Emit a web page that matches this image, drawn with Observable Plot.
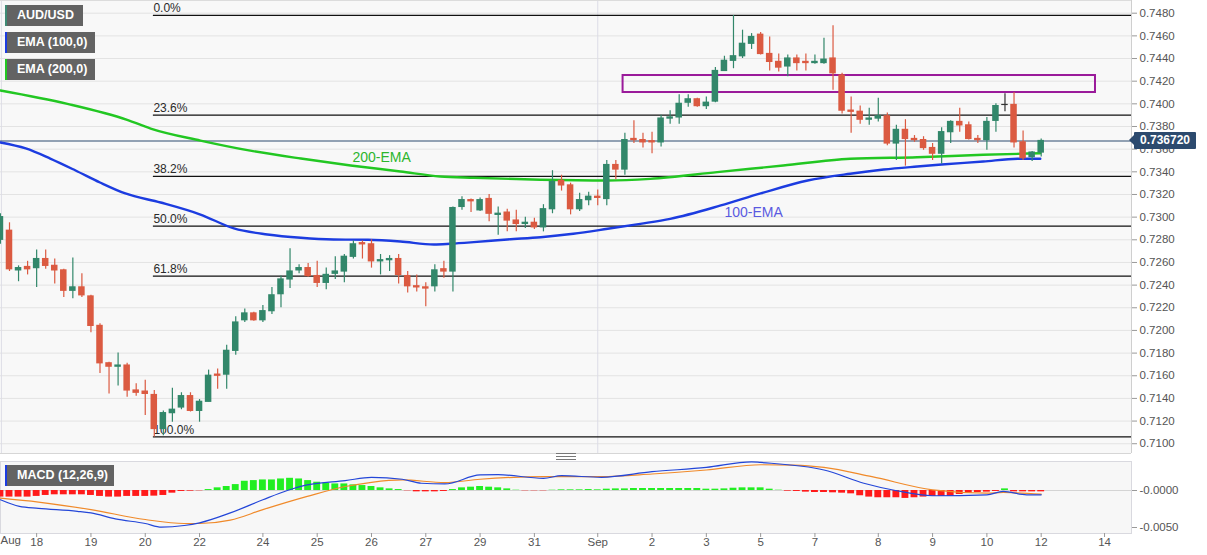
<!DOCTYPE html>
<html>
<head>
<meta charset="utf-8">
<script src="https://cdn.jsdelivr.net/npm/d3@7"></script>
<script src="https://cdn.jsdelivr.net/npm/@observablehq/plot@0.6"></script>
<style>
  body { margin: 0; background: #fff; font-family: "Liberation Sans", Arial, sans-serif; }
  #wrap { position: relative; width: 1207px; height: 555px; overflow: hidden; background: #fff; }
  #wrap svg { position: absolute; left: 0; }
  .tag { position: absolute; left: 5px; height: 21px; line-height: 21px; background: #636363; color: #fff;
         font-weight: bold; font-size: 12.5px; padding-left: 10px; box-sizing: border-box; border-left: 2px solid; }
  #price-tag { position: absolute; left: 1134px; width: 62px; height: 17px; line-height: 17px; background: #2c4a6e;
               color: #fff; font-weight: bold; font-size: 12px; text-align: center; border-radius: 1px; }
  #price-tag:before { content: ""; position: absolute; left: -5px; top: 3px; border-right: 5px solid #2c4a6e;
                      border-top: 5px solid transparent; border-bottom: 5px solid transparent; }
  #sep { position: absolute; left: 0; top: 453px; width: 1131px; height: 2px; border-top: 1px solid #d6d6d6; }
  #grip { position: absolute; left: 556px; top: 453px; width: 20px; height: 5px;
          border-top: 1px solid #777; border-bottom: 1px solid #777; }
  #grip:after { content: ""; position: absolute; left: 0; right: 0; top: 2px; border-top: 1px solid #777; }
</style>
</head>
<body>
<div id="wrap"></div>
<script>
(function() {
  "use strict";

  // 4h candles, first one is cut by the left edge
  var firstIndex = -1;
  var opens = [0.7280, 0.7288, 0.7253, 0.7256, 0.7255, 0.7263, 0.7257, 0.7253, 0.7235, 0.7238, 0.7230, 0.7204, 0.7171, 0.7168, 0.7169, 0.7147,
    0.7146, 0.7143, 0.7113, 0.7127, 0.7132, 0.7142, 0.7129, 0.7137, 0.7161, 0.7161, 0.7182, 0.7209, 0.7215, 0.7209, 0.7217, 0.7232,
    0.7245, 0.7253, 0.7255, 0.7248, 0.7242, 0.7250, 0.7252, 0.7265, 0.7277, 0.7276, 0.7261, 0.7262, 0.7263, 0.7248, 0.7239, 0.7238,
    0.7239, 0.7254, 0.7252, 0.7309, 0.7315, 0.7306, 0.7316, 0.7302, 0.7304, 0.7297, 0.7294, 0.7295, 0.7291, 0.7307, 0.7332, 0.7328,
    0.7307, 0.7315, 0.7318, 0.7316, 0.7346, 0.7342, 0.7369, 0.7368, 0.7367, 0.7366, 0.7387, 0.7388, 0.7401, 0.7404, 0.7398, 0.7402,
    0.7429, 0.7438, 0.7442, 0.7453, 0.7461, 0.7444, 0.7437, 0.7433, 0.7440, 0.7437, 0.7436, 0.7436, 0.7440, 0.7425, 0.7394, 0.7393,
    0.7386, 0.7387, 0.7389, 0.7365, 0.7377, 0.7369, 0.7368, 0.7361, 0.7356, 0.7375, 0.7384, 0.7381, 0.7369, 0.7368, 0.7385, 0.7399,
    0.7399, 0.7366, 0.7353, 0.7357];
  var highs = [0.7303, 0.7295, 0.7257, 0.7261, 0.7271, 0.7271, 0.7263, 0.7254, 0.7264, 0.7250, 0.7231, 0.7206, 0.7172, 0.7180, 0.7171, 0.7153,
    0.7156, 0.7147, 0.7129, 0.7149, 0.7145, 0.7145, 0.7139, 0.7165, 0.7166, 0.7187, 0.7212, 0.7219, 0.7216, 0.7222, 0.7238, 0.7248,
    0.7272, 0.7258, 0.7259, 0.7261, 0.7255, 0.7265, 0.7267, 0.7279, 0.7279, 0.7280, 0.7267, 0.7266, 0.7267, 0.7252, 0.7249, 0.7242,
    0.7258, 0.7261, 0.7309, 0.7318, 0.7316, 0.7317, 0.7320, 0.7309, 0.7307, 0.7306, 0.7300, 0.7299, 0.7311, 0.7341, 0.7337, 0.7330,
    0.7321, 0.7322, 0.7324, 0.7350, 0.7350, 0.7374, 0.7385, 0.7374, 0.7375, 0.7390, 0.7394, 0.7408, 0.7408, 0.7405, 0.7406, 0.7432,
    0.7442, 0.7478, 0.7465, 0.7462, 0.7463, 0.7459, 0.7444, 0.7443, 0.7443, 0.7444, 0.7443, 0.7458, 0.7469, 0.7427, 0.7406, 0.7398,
    0.7396, 0.7405, 0.7392, 0.7381, 0.7386, 0.7372, 0.7371, 0.7365, 0.7379, 0.7385, 0.7396, 0.7384, 0.7372, 0.7388, 0.7400, 0.7409,
    0.7410, 0.7376, 0.7358, 0.7369];
  var lows = [0.7276, 0.7252, 0.7243, 0.7249, 0.7238, 0.7254, 0.7241, 0.7229, 0.7228, 0.7229, 0.7198, 0.7162, 0.7144, 0.7151, 0.7141, 0.7142,
    0.7125, 0.7106, 0.7107, 0.7119, 0.7130, 0.7128, 0.7119, 0.7137, 0.7148, 0.7148, 0.7178, 0.7207, 0.7208, 0.7207, 0.7214, 0.7220,
    0.7237, 0.7250, 0.7247, 0.7238, 0.7236, 0.7245, 0.7242, 0.7263, 0.7263, 0.7255, 0.7249, 0.7252, 0.7241, 0.7233, 0.7234, 0.7221,
    0.7234, 0.7246, 0.7234, 0.7306, 0.7304, 0.7305, 0.7296, 0.7284, 0.7287, 0.7287, 0.7290, 0.7289, 0.7287, 0.7303, 0.7323, 0.7302,
    0.7305, 0.7310, 0.7310, 0.7310, 0.7333, 0.7337, 0.7365, 0.7361, 0.7356, 0.7362, 0.7382, 0.7382, 0.7397, 0.7397, 0.7395, 0.7401,
    0.7429, 0.7431, 0.7440, 0.7448, 0.7443, 0.7429, 0.7428, 0.7424, 0.7429, 0.7429, 0.7435, 0.7435, 0.7412, 0.7391, 0.7374, 0.7382,
    0.7381, 0.7384, 0.7363, 0.7350, 0.7345, 0.7366, 0.7359, 0.7350, 0.7347, 0.7365, 0.7375, 0.7368, 0.7365, 0.7359, 0.7375, 0.7393,
    0.7361, 0.7350, 0.7349, 0.7353];
  var closes = [0.7300, 0.7254, 0.7255, 0.7254, 0.7263, 0.7257, 0.7253, 0.7235, 0.7238, 0.7231, 0.7204, 0.7171, 0.7168, 0.7169, 0.7147, 0.7145,
    0.7144, 0.7113, 0.7127, 0.7130, 0.7142, 0.7129, 0.7137, 0.7160, 0.7160, 0.7182, 0.7207, 0.7215, 0.7209, 0.7217, 0.7231, 0.7245,
    0.7252, 0.7255, 0.7248, 0.7242, 0.7249, 0.7252, 0.7265, 0.7276, 0.7276, 0.7261, 0.7262, 0.7263, 0.7249, 0.7239, 0.7238, 0.7237,
    0.7253, 0.7252, 0.7308, 0.7315, 0.7314, 0.7315, 0.7303, 0.7303, 0.7297, 0.7294, 0.7295, 0.7291, 0.7307, 0.7331, 0.7328, 0.7307,
    0.7315, 0.7318, 0.7317, 0.7346, 0.7342, 0.7368, 0.7368, 0.7366, 0.7366, 0.7387, 0.7388, 0.7400, 0.7404, 0.7398, 0.7401, 0.7429,
    0.7438, 0.7442, 0.7453, 0.7459, 0.7444, 0.7437, 0.7432, 0.7440, 0.7436, 0.7436, 0.7437, 0.7439, 0.7427, 0.7394, 0.7393, 0.7386,
    0.7387, 0.7389, 0.7365, 0.7377, 0.7369, 0.7368, 0.7361, 0.7356, 0.7375, 0.7384, 0.7381, 0.7369, 0.7368, 0.7384, 0.7398, 0.7399,
    0.7366, 0.7352, 0.7357, 0.736720];

  var lastPrice = 0.736720;

  var ema100Idx = [-1, 1.8, 4.5, 7.3, 10, 12.8, 16.7, 21.1, 24.8, 28.5, 32.2, 35.8, 39.6, 43.2, 46.9, 48.7, 51.3, 55, 58.7,
    62.3, 66.1, 69.7, 73, 78.6, 83, 88.2, 92.9, 96.6, 100.3, 103, 107.6, 111.4, 113.9];
  var ema100Val = [0.73659, 0.73606, 0.73517, 0.73412, 0.73306, 0.73209, 0.73129, 0.73023, 0.72900, 0.72847, 0.72818, 0.72803,
    0.72800, 0.72785, 0.72759, 0.72765, 0.72779, 0.72803, 0.72823, 0.72853, 0.72897, 0.72941, 0.72985, 0.73103, 0.73209,
    0.73323, 0.73383, 0.73420, 0.73447, 0.73465, 0.73491, 0.73515, 0.73515];
  var ema200Idx = [-1, 6.4, 13, 15.6, 21.1, 26.6, 32.2, 37.7, 43.2, 47.6, 51.3, 58.7, 66.1, 70.8, 78.2, 85.5, 92.9, 100.3, 107.6, 113.9];
  var ema200Val = [0.74118, 0.74000, 0.73859, 0.73782, 0.73676, 0.73587, 0.73517, 0.73456, 0.73403, 0.73359, 0.73347, 0.73330,
    0.73323, 0.73338, 0.73397, 0.73456, 0.73515, 0.73529, 0.73550, 0.73564];

  var fibLevels = ["0.0%", "23.6%", "38.2%", "50.0%", "61.8%", "100.0%"];
  var fibPrices = [0.7478, 0.7390, 0.7336, 0.7292, 0.7248, 0.7106];
  var fibStart = 15.9;

  var zoneIdx = [67.8, 120];
  var zonePrice = [0.7410, 0.7425];

  var priceTicks = [0.7100, 0.7120, 0.7140, 0.7160, 0.7180, 0.7200, 0.7220, 0.7240, 0.7260, 0.7280,
    0.7300, 0.7320, 0.7340, 0.7360, 0.7380, 0.7400, 0.7420, 0.7440, 0.7460, 0.7480];
  var monthLines = [-0.9, 65];

  var dayTicks = [3, 9, 15, 21, 28, 34, 40, 46, 52, 58, 65, 71, 77, 83, 89, 96, 102, 108, 114, 121];
  var dayLabels = ["18", "19", "20", "22", "24", "25", "26", "27", "29", "31", "Sep", "2", "3", "5", "7", "8", "9", "10", "12", "14"];

  var emaLabels = [
    {i: 37.9, p: 0.73526, text: "200-EMA", color: "#2cb52c"},
    {i: 79.0, p: 0.73041, text: "100-EMA", color: "#5a5ae0"}
  ];

  // MACD (12,26,9)
  var histValues = [-0.00089, -0.00089, -0.00089, -0.00089, -0.00080, -0.00067, -0.00058, -0.00058, -0.00058, -0.00058,
    -0.00067, -0.00080, -0.00089, -0.00089, -0.00080, -0.00080, -0.00080, -0.00076, -0.00067,
    -0.00036, -0.00013, -0.00009, -0.00004,
    0.00013, 0.00036, 0.00054, 0.00080, 0.00125, 0.00134, 0.00143, 0.00143, 0.00156, 0.00165, 0.00156, 0.00134, 0.00112,
    0.00098, 0.00089, 0.00089, 0.00076, 0.00067, 0.00054, 0.00036, 0.00022, 0.00013,
    -0.00004, -0.00018, -0.00018, -0.00018, -0.00013,
    0.00013, 0.00036, 0.00045, 0.00054, 0.00045, 0.00036, 0.00022,
    0.00004, -0.00004, -0.00004, -0.00004, 0.00004, 0.00009, 0.00009, 0.00009, 0.00013,
    0.00009, 0.00018, 0.00022, 0.00022, 0.00027, 0.00027, 0.00027, 0.00027, 0.00027, 0.00027, 0.00027, 0.00027, 0.00018,
    0.00018, 0.00022, 0.00031, 0.00036, 0.00036, 0.00036, 0.00018, 0.00004,
    -0.00009, -0.00013, -0.00022, -0.00027, -0.00027, -0.00031, -0.00036, -0.00045, -0.00071, -0.00089, -0.00098, -0.00098,
    -0.00098, -0.00107, -0.00098, -0.00089, -0.00080, -0.00080, -0.00080, -0.00054, -0.00036, -0.00027, -0.00022, -0.00013,
    0.00022,
    -0.00018, -0.00018, -0.00018, -0.00018];
  var macdIdx = [-1, 1.1, 3.2, 7.5, 9, 11.7, 15, 16.8, 19.3, 21, 24.4, 28, 30.7, 32.9, 37.1, 40, 43.4, 45.5, 48.1, 52, 54, 59,
    61, 65.4, 71, 77, 82, 83, 90, 94.4, 97.9, 102, 108, 109.8, 112.4, 114];
  var macdVal = [-0.00125, -0.00214, -0.00241, -0.00281, -0.00303, -0.00384, -0.00446, -0.00495, -0.00473, -0.00437,
    -0.00303, -0.00125, 0, 0.00076, 0.00134, 0.00178, 0.00152, 0.00098, 0.00089, 0.00210, 0.00214, 0.00165, 0.00200,
    0.00178, 0.00254, 0.00312, 0.00388, 0.00379, 0.00277, 0.00098, 0, -0.00071, -0.00058, -0.00013, -0.00058, -0.00058];
  var signalIdx = [-1, 3.2, 9, 15, 19.3, 21, 24.4, 28, 32.9, 37.1, 40, 43.4, 48.1, 52, 59, 65.4, 71, 77, 83, 86.7, 90,
    95.3, 102, 108, 109.8, 114];
  var signalVal = [-0.00103, -0.00156, -0.00259, -0.00392, -0.00446, -0.00446, -0.00401, -0.00259, -0.00080, 0.00054,
    0.00111, 0.00143, 0.00107, 0.00152, 0.00187, 0.00187, 0.00223, 0.00277, 0.00348, 0.00343, 0.00312, 0.00187, 0.00009,
    -0.00036, -0.00027, -0.00049];
  var macdTicks = [0, -0.005];

  var GREEN = "#32876a";
  var RED = "#db5a41";
  var FONT = "'Liberation Sans', Arial, sans-serif";
  var xDomain = [-0.994, 123.98];

  function zip(idx, vals) {
    return idx.map(function(i, k) { return {i: i, v: vals[k]}; });
  }

  var candles = opens.map(function(o, k) {
    var c = closes[k];
    return {
      i: firstIndex + k, open: o, high: highs[k], low: lows[k], close: c,
      color: c > o ? GREEN : (c < o ? RED : "#333")
    };
  });
  var fibs = fibLevels.map(function(l, k) { return {level: l, price: fibPrices[k]}; });
  var hist = histValues.map(function(v, k) { return {i: firstIndex + k, v: v}; });

  var wrap = document.getElementById("wrap");

  var main = Plot.plot({
    width: 1207,
    height: 453,
    marginLeft: 0,
    marginRight: 76,
    marginTop: 0,
    marginBottom: 0,
    style: {background: "transparent", fontFamily: FONT, fontSize: "11.5px", color: "#555"},
    color: {type: "identity"},
    x: {domain: xDomain, axis: null},
    y: {domain: [0.709138, 0.749121], axis: null},
    marks: [
      Plot.frame({fill: "#f8f8f8", stroke: null}),
      Plot.gridY(priceTicks, {stroke: "#e3e3e3", strokeOpacity: 1}),
      Plot.ruleX(monthLines, {stroke: "#dcdce6", strokeWidth: 1}),
      Plot.ruleY([0.749121], {stroke: "#dcdcdc"}),
      Plot.ruleX([xDomain[1]], {stroke: "#cfcfcf"}),
      Plot.axisY(priceTicks, {anchor: "right", label: null, tickFormat: d3.format(".4f"), tickSize: 5, tickPadding: 3,
        stroke: "#999", fill: "#555"}),
      Plot.ruleY([lastPrice], {stroke: "#2c4a6e", strokeWidth: 1}),
      Plot.ruleY(fibs, {y: "price", x1: function() { return fibStart; }, x2: function() { return xDomain[1]; }, stroke: "#111", strokeWidth: 1.2}),
      Plot.text(fibs, {x: function() { return fibStart; }, y: "price", text: "level", textAnchor: "start", dy: -7, fontSize: 12, fill: "#2a2a2a"}),
      Plot.rect([0], {x1: function() { return zoneIdx[0]; }, x2: function() { return zoneIdx[1]; },
        y1: function() { return zonePrice[0]; }, y2: function() { return zonePrice[1]; },
        fill: "none", stroke: "#9a1a9a", strokeWidth: 2}),
      Plot.line(zip(ema200Idx, ema200Val), {x: "i", y: "v", stroke: "#22c722", strokeWidth: 2.4, curve: "monotone-x"}),
      Plot.line(zip(ema100Idx, ema100Val), {x: "i", y: "v", stroke: "#1c3ce0", strokeWidth: 2.4, curve: "monotone-x"}),
      Plot.ruleX(candles, {x: "i", y1: "low", y2: "high", stroke: "color", strokeWidth: 1.2}),
      Plot.rect(candles, {
        x1: function(d) { return d.i - 0.36; },
        x2: function(d) { return d.i + 0.36; },
        y1: "open", y2: "close", fill: "color", insetTop: -0.6, insetBottom: -0.6
      }),
      Plot.text(emaLabels, {x: "i", y: "p", text: "text", fill: "color", textAnchor: "start", fontSize: 14})
    ]
  });
  main.style.top = "0px";
  wrap.appendChild(main);

  var macd = Plot.plot({
    width: 1207,
    height: 100,
    marginLeft: 0,
    marginRight: 76,
    marginTop: 6,
    marginBottom: 22,
    style: {background: "transparent", fontFamily: FONT, fontSize: "11.5px", color: "#555"},
    color: {type: "identity"},
    x: {domain: xDomain, axis: null},
    y: {domain: [-0.00581, 0.00392], axis: null},
    marks: [
      Plot.frame({fill: "#f7f7f7", stroke: "#d9d9df"}),
      Plot.ruleY([0], {stroke: "#d4d4d4"}),
      Plot.rect(hist, {
        x1: function(d) { return d.i - 0.38; },
        x2: function(d) { return d.i + 0.38; },
        y1: function() { return 0; }, y2: "v",
        fill: function(d) { return d.v >= 0 ? "#22ee22" : "#ff1a1a"; }
      }),
      Plot.line(zip(signalIdx, signalVal), {x: "i", y: "v", stroke: "#f08a2a", strokeWidth: 1.2, curve: "monotone-x"}),
      Plot.line(zip(macdIdx, macdVal), {x: "i", y: "v", stroke: "#2346d8", strokeWidth: 1.2, curve: "monotone-x"}),
      Plot.axisY(macdTicks, {anchor: "right", label: null, tickSize: 5, tickPadding: 3, stroke: "#999", fill: "#555",
        tickFormat: function(d) { return (d <= 0 ? "-" : "") + Math.abs(d).toFixed(4); }}),
      Plot.axisX(dayTicks, {anchor: "bottom", label: null, tickSize: 4, tickPadding: 0, stroke: "#999", fill: "#555",
        tickFormat: function(d) { return dayLabels[dayTicks.indexOf(d)]; }}),
      Plot.text(["Aug"], {x: function() { return xDomain[0]; }, frameAnchor: "bottom", dy: 10, textAnchor: "start", fill: "#555"})
    ]
  });
  macd.style.top = "455px";
  wrap.appendChild(macd);

  // legend tags
  [["AUD/USD", 5, 78, "#3e8a74"], ["EMA (100,0)", 32, 90, "#1c3ce0"], ["EMA (200,0)", 59, 90, "#22c722"],
   ["MACD (12,26,9)", 465, 109, "#1c3ce0"]].forEach(function(t) {
    var el = document.createElement("div");
    el.className = "tag";
    el.textContent = t[0];
    el.style.top = t[1] + "px";
    el.style.width = t[2] + "px";
    el.style.borderLeftColor = t[3];
    wrap.appendChild(el);
  });

  var tag = document.createElement("div");
  tag.id = "price-tag";
  tag.textContent = lastPrice.toFixed(6);
  tag.style.top = (main.scale("y").apply(lastPrice) - 9) + "px";
  wrap.appendChild(tag);

  var sep = document.createElement("div");
  sep.id = "sep";
  wrap.appendChild(sep);
  var grip = document.createElement("div");
  grip.id = "grip";
  wrap.appendChild(grip);
})();
</script>
</body>
</html>
